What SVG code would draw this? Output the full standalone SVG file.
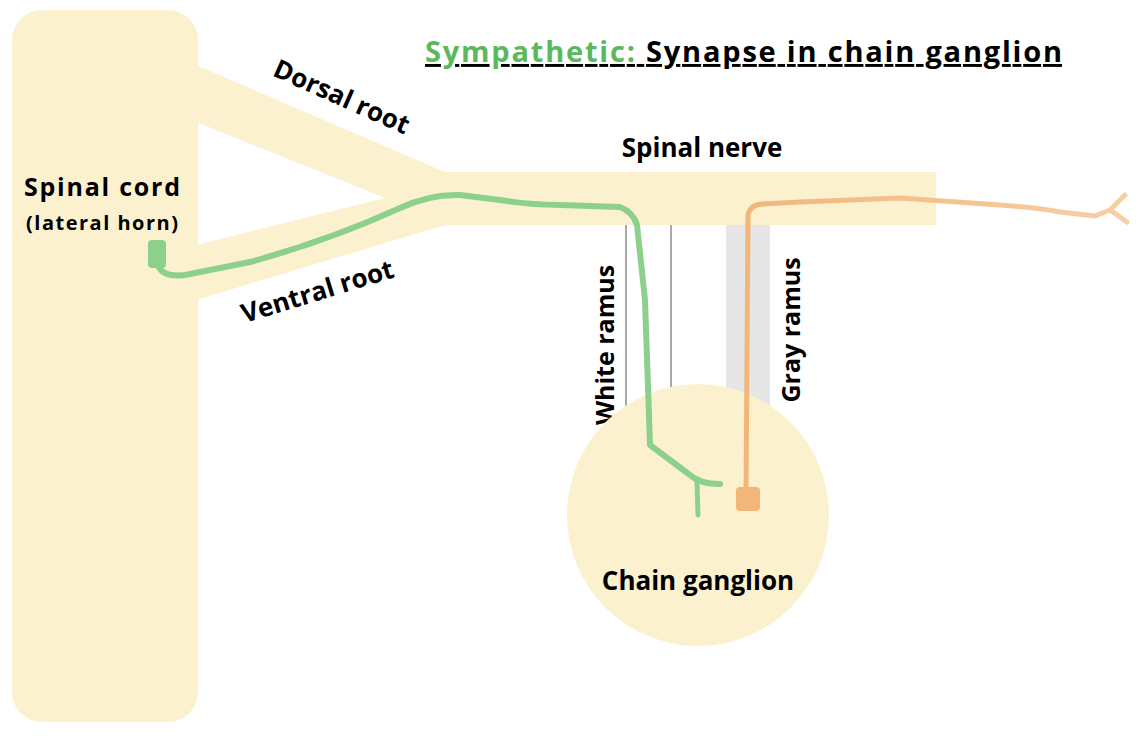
<svg xmlns="http://www.w3.org/2000/svg" width="1146" height="738" viewBox="0 0 1146 738">
<style>
.t{font-family:"Open Sans","Liberation Sans",sans-serif;font-weight:bold;fill:#000}
.n{fill:none;stroke-linecap:round;stroke-linejoin:round}
</style>
<defs>
<linearGradient id="og" x1="740" y1="0" x2="1130" y2="0" gradientUnits="userSpaceOnUse">
<stop offset="0" stop-color="#F2B679"/><stop offset="1" stop-color="#F7CFA6"/>
</linearGradient>
</defs>
<rect width="1146" height="738" fill="#fff"/>
<g id="spinal-cord">
<rect x="12" y="10" width="186" height="712" rx="30" fill="#FCF1CF"/>
<text class="t" x="102" y="196" font-size="25" text-anchor="middle" textLength="156">Spinal cord</text>
<text class="t" x="102" y="230" font-size="20" text-anchor="middle" textLength="152">(lateral horn)</text>
</g>
<g id="roots">
<polygon points="196,65 445,172 936,172 936,225 445,225 196,300 196,245 385,198 196,122" fill="#FCF1CF"/>
<text class="t" font-size="26" transform="translate(338,105) rotate(24)" text-anchor="middle">Dorsal root</text>
<text class="t" font-size="26" transform="translate(320,300) rotate(-17)" text-anchor="middle">Ventral root</text>
<text class="t" x="702" y="157" font-size="26" text-anchor="middle">Spinal nerve</text>
</g>
<g id="rami">
<line x1="626" y1="225" x2="626" y2="420" stroke="#555" stroke-width="1"/>
<line x1="671" y1="225" x2="671" y2="400" stroke="#555" stroke-width="1"/>
<rect x="726" y="225" width="44" height="195" fill="#E6E6E6"/>
<text class="t" font-size="25" transform="translate(614,345) rotate(-90)" text-anchor="middle">White ramus</text>
<text class="t" font-size="25" transform="translate(800,330) rotate(-90)" text-anchor="middle">Gray ramus</text>
</g>
<g id="chain-ganglion">
<circle cx="698" cy="515" r="131" fill="#FCF1CF"/>
<text class="t" x="698" y="590" font-size="26" text-anchor="middle">Chain ganglion</text>
</g>
<g id="connectors">
<rect x="148" y="240" width="18" height="28" rx="4" fill="#8CD08C"/>
<path class="n" stroke="#8CD08C" stroke-width="6" d="M157,262 Q160,278 185,275 L250,262 Q330,240 400,208 Q430,194 460,195 L500,200 Q530,205 560,205 L620,207 Q633,212 637,225 L645,300 L650,445 L690,475 Q700,484 720,484"/>
<path class="n" stroke="#8CD08C" stroke-width="5" d="M697,482 L698,515"/>
<rect x="736" y="487" width="24" height="24" rx="4" fill="#F2B679"/>
<path class="n" stroke="url(#og)" stroke-width="5" d="M746,495 L748,215 Q750,205 762,204 L800,202 L900,198 L1000,205 Q1040,208 1060,212 L1095,216 L1110,210 L1125,195 M1110,210 L1127,222"/>
</g>
<g id="title">
<text class="t" x="425" y="62" font-size="29" text-decoration="underline" textLength="637"><tspan style="fill:#5DB85D">Sympathetic:</tspan> Synapse in chain ganglion</text>
</g>
</svg>
